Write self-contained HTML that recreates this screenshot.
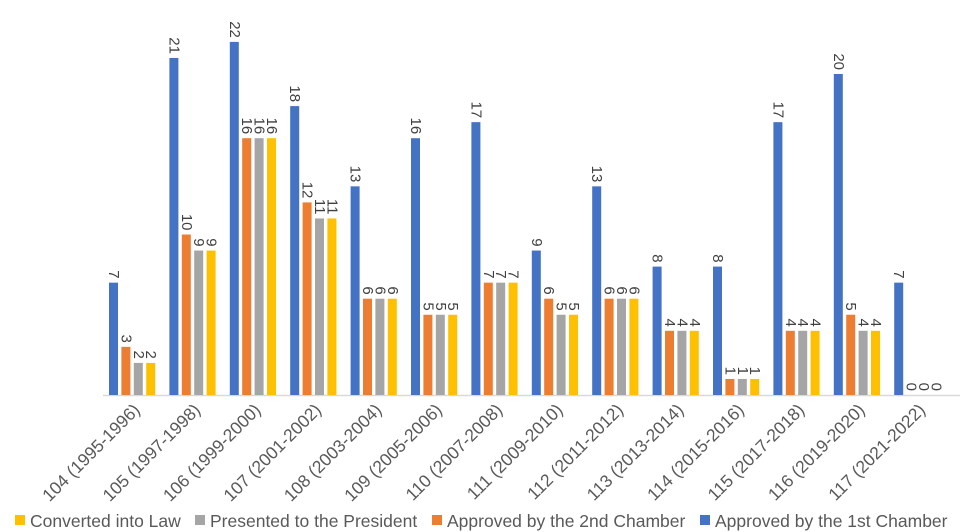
<!DOCTYPE html>
<html><head><meta charset="utf-8"><style>
body{margin:0;background:#fff;font-family:"Liberation Sans",sans-serif;}
svg{display:block}
</style></head><body>
<svg id="c" width="966" height="532"></svg>
<script>
const categories=["104 (1995-1996)","105 (1997-1998)","106 (1999-2000)","107 (2001-2002)","108 (2003-2004)","109 (2005-2006)","110 (2007-2008)","111 (2009-2010)","112 (2011-2012)","113 (2013-2014)","114 (2015-2016)","115 (2017-2018)","116 (2019-2020)","117 (2021-2022)"];
const firstChamber=[7,21,22,18,13,16,17,9,13,8,8,17,20,7];
const secondChamber=[3,10,16,12,6,5,7,6,6,4,1,4,5,0];
const presented=[2,9,16,11,6,5,7,5,6,4,1,4,4,0];
const law=[2,9,16,11,6,5,7,5,6,4,1,4,4,0];
const seriesNames=["Approved by the 1st Chamber","Approved by the 2nd Chamber","Presented to the President","Converted into Law"];
const colors=["#4472c4","#ed7d31","#a5a5a5","#ffc000"];
const NS="http://www.w3.org/2000/svg";
const svg=document.getElementById('c');
const base=395,unit=16.05,x0=109,step=60.4,bw=9,bstep=12.4;
const y=v=>base-v*unit;
const xg=(i,s)=>x0+i*step+s*bstep;
function mk(t,a){const e=document.createElementNS(NS,t);for(const k in a)e.setAttribute(k,a[k]);svg.appendChild(e);return e;}
const axis=mk('line',{x1:103,x2:960,y1:base+0.5,y2:base+0.5,stroke:'#d9d9d9','stroke-width':1.5});


const data=[firstChamber,secondChamber,presented,law];
data.forEach((arr,s)=>{arr.forEach((v,i)=>{
  const bx=xg(i,s);
  const r=mk('rect',{x:bx,y:y(v),width:bw,height:v*unit,fill:colors[s]});
  
  
  const cx=bx+bw/2,ty=y(v)-4;
  const t=mk('text',{x:0,y:0,'font-size':15,fill:'#404040','text-anchor':'end','dominant-baseline':'central',transform:`translate(${cx},${ty}) rotate(90)`});
  t.textContent=v;
  
  
});});
categories.forEach((c,i)=>{
  const cx=x0+i*step+23;
  const t=mk('text',{x:0,y:0,'font-size':17.5,fill:'#595959','text-anchor':'end',transform:`translate(${cx+9},${411}) rotate(-45)`});
  t.textContent=c;
  
  
});
const leg=[[3,"Converted into Law",15],[2,"Presented to the President",195],[1,"Approved by the 2nd Chamber",432],[0,"Approved by the 1st Chamber",700]];
leg.forEach(([s,name,lx])=>{
  const r=mk('rect',{x:lx,y:515,width:10,height:10,fill:colors[s]});
  
  
  const t=mk('text',{x:lx+15,y:527,'font-size':17.5,fill:'#595959'});
  t.textContent=name;
  
  
});
</script>
</body></html>
